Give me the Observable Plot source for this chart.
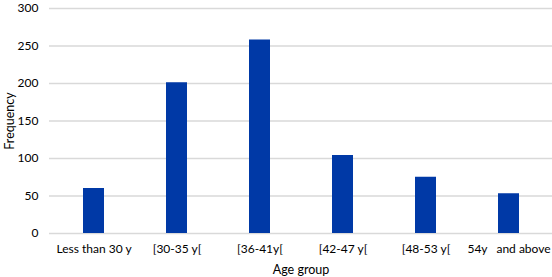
<!DOCTYPE html>
<html>
<head>
<meta charset="utf-8">
<script src="https://cdn.jsdelivr.net/npm/d3@7"></script>
<script src="https://cdn.jsdelivr.net/npm/@observablehq/plot@0.6"></script>
<style>
  html, body { margin: 0; padding: 0; background: #fff; }
  svg { display: block; }
</style>
</head>
<body>
<div id="chart"></div>
<script>
const categories = ["Less than 30 y", "[30-35 y[", "[36-41y[", "[42-47 y[", "[48-53 y[", "54y\u00a0\u00a0\u00a0and above"];
const frequencies = [60, 201, 258, 104, 75, 53];
const yTicks = [0, 50, 100, 150, 200, 250, 300];

const data = categories.map((c, i) => ({group: c, freq: frequencies[i]}));

const chart = Plot.plot({
  width: 552,
  height: 277,
  marginLeft: 49,
  marginRight: 0,
  marginTop: 8,
  marginBottom: 44,
  style: {fontFamily: "Lato, 'Open Sans', sans-serif", fontSize: "11px", color: "#000", background: "#fff", overflow: "visible"},
  x: {domain: categories, paddingInner: 0.75, paddingOuter: 0.375, label: null},
  y: {domain: [0, 300], label: null},
  marks: [
    Plot.gridY(yTicks, {stroke: "#d9d9d9", strokeOpacity: 1, strokeWidth: 1.3}),
    Plot.barY(data, {x: "group", y: "freq", fill: "#0039a6"}),
    Plot.axisY({ticks: yTicks, tickSize: 0, tickPadding: 11, fontSize: 12, label: "Frequency", labelAnchor: "center", labelArrow: "none", labelOffset: 44}),
    Plot.axisX({tickSize: 0, tickPadding: 11, fontSize: 12, label: "Age group", labelAnchor: "center", labelArrow: "none", labelOffset: 40})
  ]
});
chart.querySelectorAll("[aria-label='y-axis label'] text, [aria-label='x-axis label'] text").forEach(t => t.style.fontSize = "12.5px");
document.getElementById("chart").appendChild(chart);
</script>
</body>
</html>
